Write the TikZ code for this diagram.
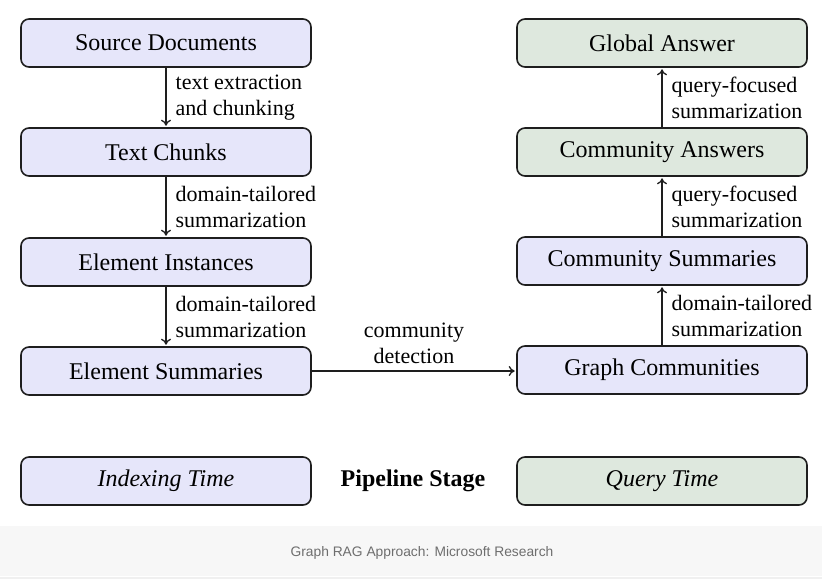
\documentclass[tikz,border=0pt]{standalone}
\usepackage{fontspec}
\setmainfont{Liberation Serif}
\newfontfamily\capfont{Liberation Sans}
\usetikzlibrary{arrows.meta}
\definecolor{lav}{RGB}{230,230,250}
\definecolor{grn}{RGB}{222,232,222}
\definecolor{band}{RGB}{247,247,247}
\definecolor{captxt}{RGB}{110,110,110}
\definecolor{edge}{RGB}{30,30,30}
\begin{document}
\begin{tikzpicture}[x=1pt,y=-1pt,
  box/.style={draw=edge, line width=1.6pt, rounded corners=8pt, minimum width=290pt, minimum height=48pt, inner sep=0pt, font=\fontsize{24}{28}\selectfont},
  idx/.style={box, fill=lav},
  qry/.style={box, fill=grn},
  lbl/.style={font=\fontsize{22}{26}\selectfont, align=left, inner sep=0pt},
  arr/.style={line width=1.3pt, draw=edge, shorten >=1.5pt, -{To[length=6pt,width=10pt]}}]
\useasboundingbox (0,0) rectangle (822,579);
\fill[white] (0,0) rectangle (822,579);
\fill[band] (0,526) rectangle (822,576);
\fill[black!6] (0,577) rectangle (822,579);
% left column
\node[idx] (sd) at (166,43) {Source Documents};
\node[idx] (tc) at (166,152) {Text Chunks};
\node[idx] (ei) at (166,262) {Element Instances};
\node[idx] (es) at (166,371) {Element Summaries};
% right column
\node[qry] (ga) at (662,43) {Global Answer};
\node[qry] (ca) at (662,152) {Community Answers};
\node[idx] (cs) at (662,261) {Community Summaries};
\node[idx] (gc) at (662,370) {Graph Communities};
% legend
\node[idx] (it) at (166,481) {\itshape Indexing Time};
\node[font=\fontsize{24}{28}\selectfont\bfseries, inner sep=0pt] (ps) at (413,481) {Pipeline Stage};
\node[qry] (qt) at (662,481) {\itshape Query Time};
% connectors
\draw[arr] (sd.south) -- node[lbl, midway, anchor=west, xshift=9pt] {text extraction\\and chunking} (tc.north);
\draw[arr] (tc.south) -- node[lbl, midway, anchor=west, xshift=9pt] {domain-tailored\\summarization} (ei.north);
\draw[arr] (ei.south) -- node[lbl, midway, anchor=west, xshift=9pt] {domain-tailored\\summarization} (es.north);
\draw[arr] (es.east) -- node[lbl, align=center, midway, above=7pt] {community\\detection} (gc.west |- es.east);
\draw[arr] (gc.north) -- node[lbl, midway, anchor=west, xshift=9pt] {domain-tailored\\summarization} (cs.south);
\draw[arr] (cs.north) -- node[lbl, midway, anchor=west, xshift=9pt] {query-focused\\summarization} (ca.south);
\draw[arr] (ca.north) -- node[lbl, midway, anchor=west, xshift=9pt] {query-focused\\summarization} (ga.south);
% caption
\node[font=\capfont\fontsize{13.8}{16}\selectfont, text=captxt, inner sep=0pt] (cap) at (422,553) {Graph RAG Approach: Microsoft Research};
\end{tikzpicture}
\end{document}
